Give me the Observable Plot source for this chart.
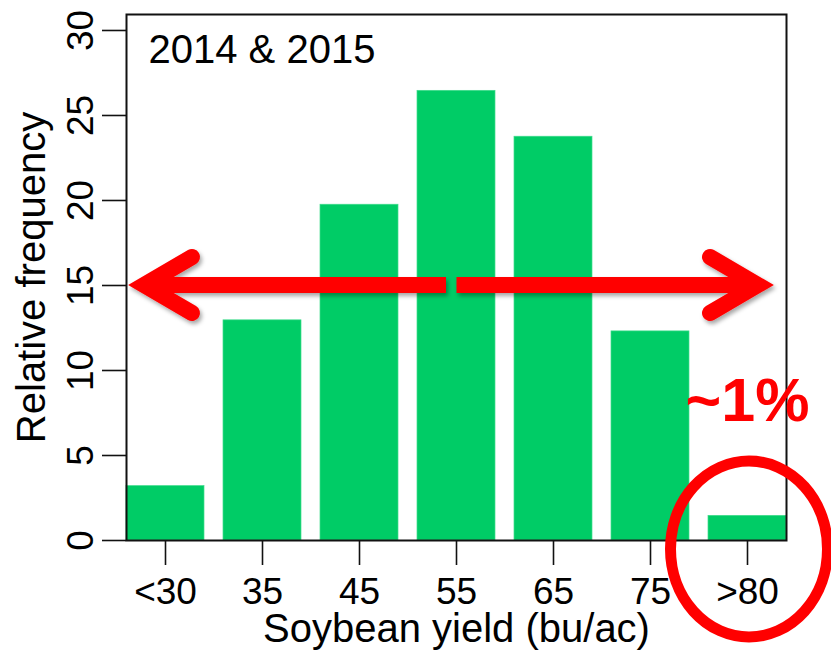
<!DOCTYPE html>
<html>
<head>
<meta charset="utf-8">
<script src="https://cdn.jsdelivr.net/npm/d3@7"></script>
<script src="https://cdn.jsdelivr.net/npm/@observablehq/plot@0.6"></script>
<style>
  html, body { margin: 0; padding: 0; background: #fff; overflow: hidden; }
  #chart svg { display: block; }
</style>
</head>
<body>
<div id="chart"></div>
<script>
// ---- data ----
const categories = ["<30", "35", "45", "55", "65", "75", ">80"];
const frequency = [3.2, 12.95, 19.75, 26.45, 23.75, 12.3, 1.45];
const yTicks = [0, 5, 10, 15, 20, 25, 30];
const titleText = "2014 & 2015";
const xLabel = "Soybean yield (bu/ac)";
const yLabel = "Relative frequency";
const noteText = "~1%";
const noteCategory = ">80";
const noteValue = 7;
const arrowValue = 15;

const rows = categories.map((c, i) => ({cat: c, value: frequency[i]}));
const FONT = "'Liberation Sans', Arial, Helvetica, sans-serif";

const chart = Plot.plot({
  width: 831,
  height: 657,
  marginLeft: 126,
  marginRight: 45,
  marginTop: 14,
  marginBottom: 117,
  style: {fontFamily: FONT, fontSize: "37px", color: "#000", background: "#fff", overflow: "visible"},
  x: {type: "band", domain: categories, paddingInner: 0.2, paddingOuter: 0, axis: null},
  y: {domain: [0, 30.94], axis: null},
  marks: [
    Plot.barY(rows, {x: "cat", y: "value", fill: "#00CC66", stroke: "#3fdc8c", strokeWidth: 0.7}),
    Plot.frame({stroke: "#111", strokeWidth: 2}),
    Plot.axisX({tickSize: 25, tickPadding: 12, fontSize: 37, strokeWidth: 1.6, stroke: "#111", fill: "#000"}),
    Plot.axisY({ticks: yTicks, tickSize: 24, tickFormat: () => "", strokeWidth: 1.6, stroke: "#111"}),
    Plot.text(yTicks, {y: d => d, text: d => String(d), frameAnchor: "left", dx: -34, rotate: -90,
      textAnchor: "middle", lineAnchor: "bottom", fontSize: 37, fill: "#000"}),
    Plot.text([yLabel], {text: d => d, frameAnchor: "left", dx: -82, rotate: -90,
      textAnchor: "middle", lineAnchor: "bottom", fontSize: 40, fill: "#000"}),
    Plot.text([xLabel], {text: d => d, frameAnchor: "bottom", dy: 101, lineAnchor: "bottom",
      textAnchor: "middle", fontSize: 40, fill: "#000"}),
    Plot.text([titleText], {text: d => d, frameAnchor: "top-left", dx: 22, dy: 48, lineAnchor: "bottom",
      textAnchor: "start", fontSize: 40, fill: "#000"}),
    Plot.text([{c: noteCategory, v: noteValue, t: noteText}], {x: "c", y: "v", text: "t",
      textAnchor: "middle", lineAnchor: "bottom", fontSize: 61, fontWeight: "bold", fill: "#ff0000"})
  ]
});

document.getElementById("chart").appendChild(chart);

// ---- annotations (arrow + ellipse) placed through the chart's scales ----
const xs = chart.scale("x"), ys = chart.scale("y");
const bw = xs.bandwidth;
const cx = c => xs.apply(c) + bw / 2;
const left = xs.range[0], right = xs.range[1];
const ay = ys.apply(arrowValue);
const svg = d3.select(chart);
const defs = svg.append("defs");
defs.append("filter").attr("id", "shadow").attr("x", "-10%").attr("y", "-50%").attr("width", "120%").attr("height", "200%")
  .append("feDropShadow").attr("dx", 2).attr("dy", 3).attr("stdDeviation", 2)
  .attr("flood-color", "#000").attr("flood-opacity", 0.35);

const g = svg.append("g").attr("filter", "url(#shadow)")
  .attr("fill", "none").attr("stroke", "#ff0000").attr("stroke-width", 16);
const gapL = cx("55") - 10, gapR = cx("55") + 0.5;
const tipL = left + 18, tipR = right - 28;
g.append("line").attr("x1", tipL).attr("x2", gapL).attr("y1", ay).attr("y2", ay).attr("stroke-linecap", "butt");
g.append("line").attr("x1", gapR).attr("x2", tipR).attr("y1", ay).attr("y2", ay).attr("stroke-linecap", "butt");
g.append("path").attr("d", `M${tipL + 48},${ay - 28}L${tipL},${ay}L${tipL + 48},${ay + 28}`)
  .attr("stroke-linejoin", "miter").attr("stroke-linecap", "round");
g.append("path").attr("d", `M${tipR - 48},${ay - 28}L${tipR},${ay}L${tipR - 48},${ay + 28}`)
  .attr("stroke-linejoin", "miter").attr("stroke-linecap", "round");

svg.append("ellipse")
  .attr("cx", cx(noteCategory) + 2).attr("cy", ys.apply(0) + 9)
  .attr("rx", 78.5).attr("ry", 88)
  .attr("fill", "none").attr("stroke", "#ff0000").attr("stroke-width", 11);
</script>
</body>
</html>
